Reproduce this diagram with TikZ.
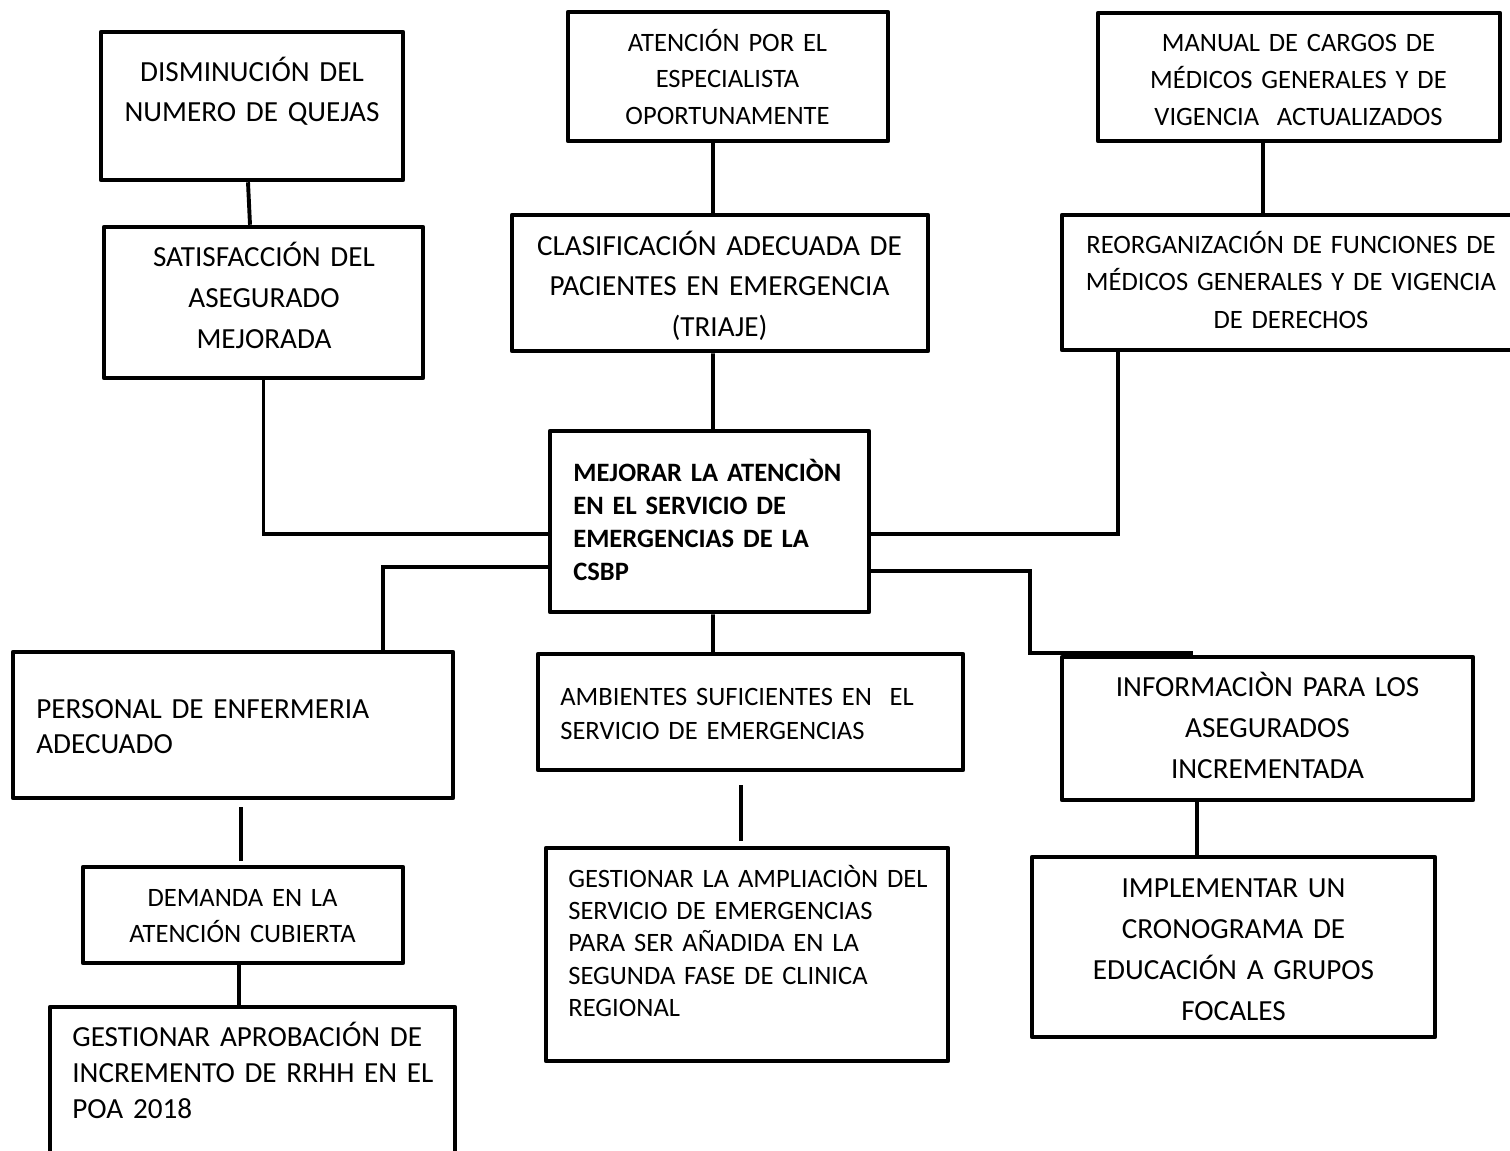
\documentclass[tikz,border=0pt]{standalone}
\usepackage{fontspec}
\setmainfont{Carlito}
\usetikzlibrary{calc,fit}

\begin{document}
\begin{tikzpicture}[x=0.02cm, y=-0.02cm, line cap=butt,
  box/.style={draw, line width=0.09cm, line join=round, inner sep=0pt},
  link/.style={line width=0.078cm},
  big/.style={font=\fontsize{16.6pt}{#1}\selectfont},
  small/.style={font=\fontsize{15.1pt}{#1}\selectfont},
  ctext/.style={align=center, text width=9cm, inner sep=0pt, anchor=base},
  ltext/.style={align=left, text width=9cm, inner sep=0pt, anchor=base west}]

  \useasboundingbox (0,0) rectangle (1510,1150);
  \clip (0,0) rectangle (1510,1150);

  % fila superior
  \node[box, fit={(101,32) (403,180)}] (quejas) {};
  \node[ctext, big=22.8pt] (t-quejas) at (252,81) {DISMINUCIÓN DEL\\NUMERO DE QUEJAS};

  \node[box, fit={(104,227) (423,378)}] (satisf) {};
  \node[ctext, big=23.3pt] (t-satisf) at (264,266.7) {SATISFACCIÓN DEL\\ASEGURADO\\MEJORADA};

  \node[box, fit={(568,12) (888,141)}] (espec) {};
  \node[ctext, small=21.05pt] (t-espec) at (727.5,51) {ATENCIÓN POR EL\\ESPECIALISTA\\OPORTUNAMENTE};

  \node[box, fit={(512,215) (928,351)}] (clasif) {};
  \node[ctext, big=23.33pt] (t-clasif) at (719.5,255) {CLASIFICACIÓN ADECUADA DE\\PACIENTES EN EMERGENCIA\\(TRIAJE)};

  \node[box, fit={(1098,13) (1500,141)}] (manual) {};
  \node[ctext, small=21.05pt] (t-manual) at (1298.5,51.7) {MANUAL DE CARGOS DE\\MÉDICOS GENERALES Y DE\\VIGENCIA\ \ ACTUALIZADOS};

  \node[box, fit={(1062,215) (1520,350)}] (reorg) {};
  \node[ctext, small=21.34pt] (t-reorg) at (1291,253.3) {REORGANIZACIÓN DE FUNCIONES DE\\MÉDICOS GENERALES Y DE VIGENCIA\\DE DERECHOS};

  % objetivo
  \node[box, fit={(550,431) (869,612)}] (obj) {};
  \node[ltext, font=\fontsize{15.1pt}{18.8pt}\selectfont\bfseries] (t-obj) at (573,481.7) {MEJORAR LA ATENCIÒN\\EN EL SERVICIO DE\\EMERGENCIAS DE LA\\CSBP};

  % medios
  \node[box, fit={(13,652) (453,798)}] (personal) {};
  \node[ltext, big=19.9pt] (t-personal) at (36,718.3) {PERSONAL DE ENFERMERIA\\ADECUADO};

  \node[box, fit={(538,654) (963,770)}] (amb) {};
  \node[ltext, small=19.35pt] (t-amb) at (560,705) {AMBIENTES SUFICIENTES EN\ \ EL\\SERVICIO DE EMERGENCIAS};

  \node[box, fit={(1062,657) (1473,800)}] (info) {};
  \node[ctext, big=23.33pt] (t-info) at (1267.5,696.7) {INFORMACIÒN PARA LOS\\ASEGURADOS\\INCREMENTADA};

  % acciones
  \node[box, fit={(83,867) (403,963)}] (demanda) {};
  \node[ctext, small=20.49pt] (t-demanda) at (242.5,906) {DEMANDA EN LA\\ATENCIÓN CUBIERTA};

  \node[box, fit={(50,1007) (455,1160)}] (aprob) {};
  \node[ltext, big=20.49pt] (t-aprob) at (72,1046.7) {GESTIONAR APROBACIÓN DE\\INCREMENTO DE RRHH EN EL\\POA 2018};

  \node[box, fit={(546,848) (948,1061)}] (ampl) {};
  \node[ltext, small=18.4pt] (t-ampl) at (568,887.3) {GESTIONAR LA AMPLIACIÒN DEL\\SERVICIO DE EMERGENCIAS\\PARA SER AÑADIDA EN LA\\SEGUNDA FASE DE CLINICA\\REGIONAL};

  \node[box, fit={(1032,857) (1435,1037)}] (impl) {};
  \node[ctext, big=23.33pt] (t-impl) at (1233.5,897.3) {IMPLEMENTAR UN\\CRONOGRAMA DE\\EDUCACIÓN A GRUPOS\\FOCALES};

  % conexiones
  \draw[link] ($(quejas.south)+(-4,0)$) -- ($(satisf.north)+(-13.5,0)$);
  \draw[link] (satisf.south) |- ($(obj.west)+(0,12.5)$);
  \draw[link] ($(espec.south)+(-15,0)$) -- ($(clasif.north)+(-7,0)$);
  \draw[link] ($(clasif.south)+(-7,0)$) -- ($(obj.north)+(3.5,0)$);
  \draw[link] ($(manual.south)+(-36,0)$) -- ($(reorg.north)+(-28,0)$);
  \draw[link] ($(reorg.south)+(-173,0)$) |- ($(obj.east)+(0,12.5)$);

  \draw[link] ($(obj.west)+(0,45.5)$) -| ($(personal.north)+(150,0)$);
  \draw[link] ($(obj.south)+(3.5,0)$) -- ($(amb.north)+(-37.5,0)$);
  \draw[link] ($(obj.east)+(0,49.5)$) -| ($(info.north west)+(-30,-1.5)$)
    -- ($(info.north)+(-74.5,-1.5)$);

  \draw[link] ($(personal.south)+(8,7)$) -- ($(demanda.north)+(-2,-4)$);
  \draw[link] ($(demanda.south)+(-4,0)$) -- ($(aprob.north)+(-13.5,0)$);
  \draw[link] ($(amb.south)+(-9.5,13)$) -- ($(ampl.north)+(-6,-5)$);
  \draw[link] ($(info.south)+(-70.5,0)$) -- ($(impl.north)+(-36.5,0)$);

\end{tikzpicture}
\end{document}
